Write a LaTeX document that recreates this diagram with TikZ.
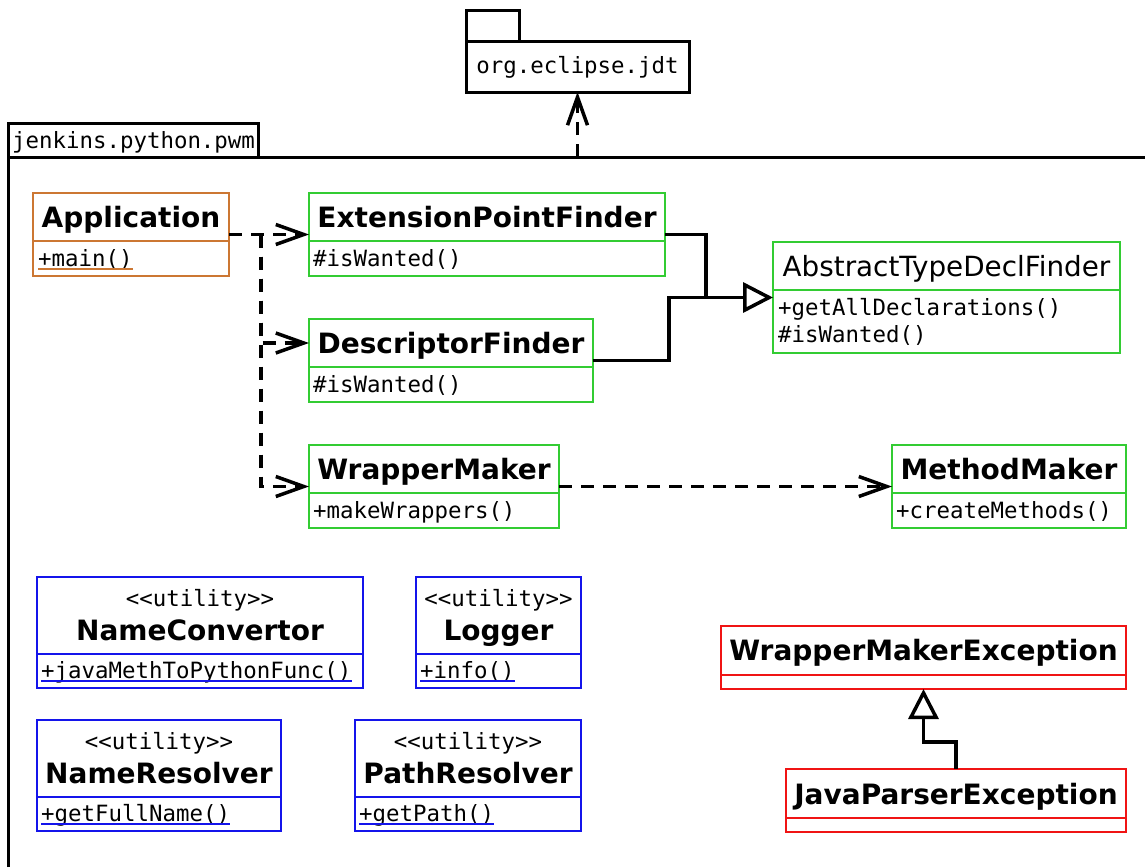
\documentclass[tikz,border=0pt]{standalone}
\usepackage{fontspec}
\setmainfont{DejaVu Sans}
\setmonofont{DejaVu Sans Mono}
\usetikzlibrary{arrows.meta,calc}
\definecolor{corange}{RGB}{204,119,51}
\definecolor{cgreen}{RGB}{51,204,51}
\definecolor{cblue}{RGB}{20,20,235}
\definecolor{cred}{RGB}{240,20,20}
\tikzset{
  box/.style={draw, line width=2.2pt, inner sep=0pt, outer sep=0pt, anchor=north west},
  ttl/.style={font=\fontsize{28}{32}\selectfont\bfseries, inner sep=0pt, anchor=base},
  rttl/.style={font=\fontsize{27.8}{32}\selectfont, inner sep=0pt, anchor=base},
  mem/.style={font=\ttfamily\fontsize{22.4}{26}\selectfont, inner sep=0pt, anchor=base west},
  ster/.style={font=\ttfamily\fontsize{22.4}{26}\selectfont, inner sep=0pt, anchor=base},
  pkg/.style={draw, line width=3pt, inner sep=0pt, outer sep=0pt, anchor=north west},
  conn/.style={line width=3.5pt},
  dep/.style={conn, dash pattern=on 13pt off 9pt, -{Straight Barb[length=28pt,width=20pt,line width=3.5pt]}},
  gen/.style={conn, -{Triangle[open,length=30pt,width=30pt,line width=3.5pt,fill=white]}},
}
\newcommand\umlbox[7]{%
  \node[box, draw=#2, minimum width={#5-#3}, minimum height={#7-#4}] (#1) at (#3,#4) {};
  \draw[#2, line width=2.2pt] (#3,#6) -- (#5,#6);
}
\newcommand\uline{}
\renewcommand\uline[2]{%
  \draw[#2, line width=1.5pt] ([yshift=-3pt]#1.base west) -- ([yshift=-3pt]#1.base east);
}
\begin{document}
\begin{tikzpicture}[x=1pt,y=-1pt]
\useasboundingbox[fill=white] (0,0) rectangle (1145,867);

% packages
\node[pkg, minimum width=53, minimum height=31] (jdttab) at (466,11) {};
\node[pkg, minimum width=223, minimum height=50] (jdt) at (466,42) {};
\node[ster] (jdtname) at (577.5,74) {org.eclipse.jdt};
\node[pkg, minimum width=250, minimum height=34] (pwmtab) at (8,123) {};
\node[mem] (pwmname) at (12,148) {jenkins.python.pwm};
\draw[line width=3pt] (8,867) -- (8,157) -- (1145,157);
\coordinate (pwmtop) at (577.5,157);

% classes
\umlbox{app}{corange}{33}{193}{229}{241}{276}
\node[ttl] (appt) at (131,227) {Application};
\node[mem] (appm) at (38,266) {+main()};
\uline{appm}{corange}

\umlbox{epf}{cgreen}{309}{193}{665}{241}{276}
\node[ttl] (epft) at (487,227) {ExtensionPointFinder};
\node[mem] (epfm) at (313,266) {\#isWanted()};

\umlbox{df}{cgreen}{309}{319}{593}{367}{402}
\node[ttl] (dft) at (451,353) {DescriptorFinder};
\node[mem] (dfm) at (313,392) {\#isWanted()};

\umlbox{wm}{cgreen}{309}{445}{559}{493}{528}
\node[ttl] (wmt) at (434,479) {WrapperMaker};
\node[mem] (wmm) at (313,518) {+makeWrappers()};

\umlbox{atdf}{cgreen}{773}{242}{1120}{290}{353}
\node[rttl] (atdft) at (946.5,276) {AbstractTypeDeclFinder};
\node[mem] (atdfm1) at (778,315) {+getAllDeclarations()};
\node[mem] (atdfm2) at (778,342) {\#isWanted()};

\umlbox{mm}{cgreen}{892}{445}{1126}{493}{528}
\node[ttl] (mmt) at (1009,479) {MethodMaker};
\node[mem] (mmm) at (896,518) {+createMethods()};

\umlbox{nc}{cblue}{37}{577}{363}{654}{688}
\node[ster] (ncs) at (200,606) {\textless\textless utility\textgreater\textgreater};
\node[ttl] (nct) at (200,640) {NameConvertor};
\node[mem] (ncm) at (41,678) {+javaMethToPythonFunc()};
\uline{ncm}{cblue}

\umlbox{lg}{cblue}{416}{577}{581}{654}{688}
\node[ster] (lgs) at (498.5,606) {\textless\textless utility\textgreater\textgreater};
\node[ttl] (lgt) at (498.5,640) {Logger};
\node[mem] (lgm) at (420,678) {+info()};
\uline{lgm}{cblue}

\umlbox{nr}{cblue}{37}{720}{281}{797}{831}
\node[ster] (nrs) at (159,749) {\textless\textless utility\textgreater\textgreater};
\node[ttl] (nrt) at (159,783) {NameResolver};
\node[mem] (nrm) at (41,821) {+getFullName()};
\uline{nrm}{cblue}

\umlbox{pr}{cblue}{355}{720}{581}{797}{831}
\node[ster] (prs) at (468,749) {\textless\textless utility\textgreater\textgreater};
\node[ttl] (prt) at (468,783) {PathResolver};
\node[mem] (prm) at (359,821) {+getPath()};
\uline{prm}{cblue}

\umlbox{wme}{cred}{721}{626}{1126}{675}{689}
\node[ttl] (wmet) at (923.5,660) {WrapperMakerException};

\umlbox{jpe}{cred}{786}{769}{1126}{818}{832}
\node[ttl] (jpet) at (956,804) {JavaParserException};

% connectors
\draw[dep] (pwmtop) -- (jdt.south);
\coordinate (br) at (261,234.5);
\draw[dep] (app.east) -- (epf.west);
\draw[dep] (br) |- ([yshift=17.5pt]df.west);
\draw[dep] (br) |- (wm.west);
\draw[dep] (wm.east) -- (mm.west);
\coordinate (j1) at (706,297.5);
\coordinate (j2) at (669,297.5);
\draw[conn] (epf.east) -| (j1);
\draw[gen] (df.east) -| (j2) -- (atdf.west);
\coordinate (j3) at (956,742);
\draw[gen] (jpe.north) -- (j3) -| (wme.south);
\end{tikzpicture}
\end{document}
